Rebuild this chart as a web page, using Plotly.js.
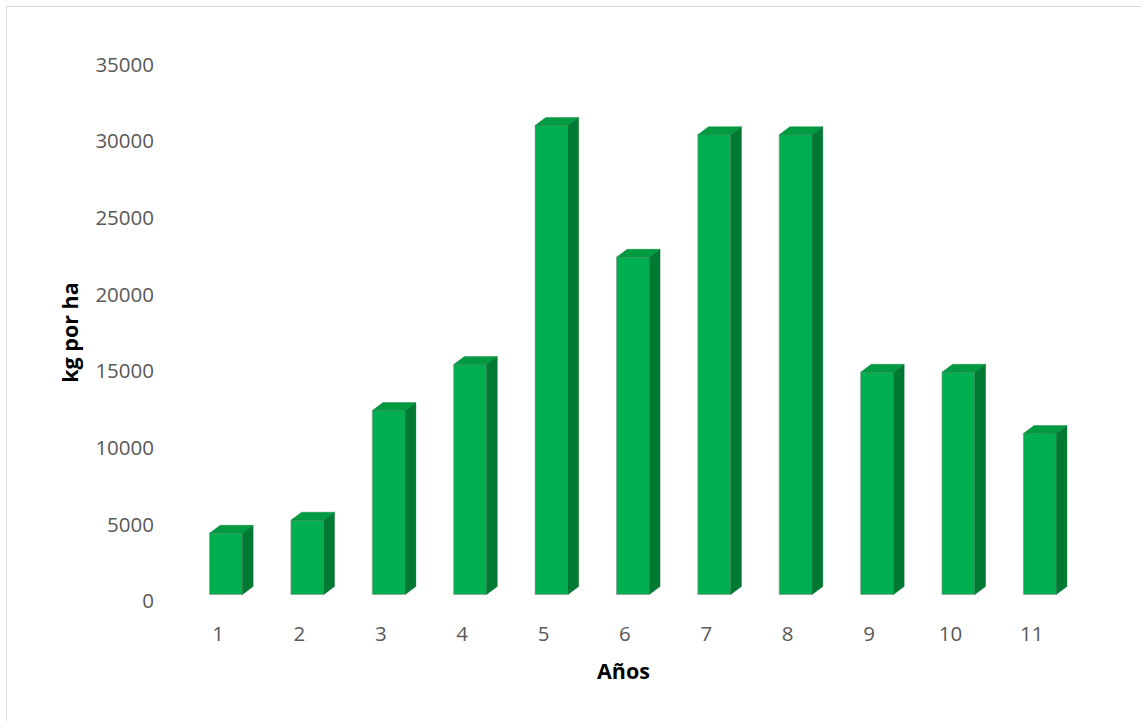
<!DOCTYPE html>
<html>
<head>
<meta charset="utf-8">
<script src="https://cdn.plot.ly/plotly-3.0.1.min.js"></script>
<style>
  html, body { margin: 0; padding: 0; background: #ffffff; }
  #wrap { position: relative; width: 1141px; height: 721px; overflow: hidden; }
  #chart { width: 1141px; height: 721px; }
  #frame {
    position: absolute; left: 6px; top: 6px; width: 1200px; height: 800px;
    border-left: 1.5px solid #d9d9d9; border-top: 1.5px solid #d9d9d9;
    pointer-events: none;
  }
</style>
</head>
<body>
<div id="wrap">
  <div id="chart"></div>
  <div id="frame"></div>
</div>
<script>
// Yield per hectare by year
const years = [1, 2, 3, 4, 5, 6, 7, 8, 9, 10, 11];
const kgPerHa = [4000, 4850, 12000, 15000, 30600, 22000, 30000, 30000, 14500, 14500, 10500];
const yTicks = [0, 5000, 10000, 15000, 20000, 25000, 30000, 35000];

// column geometry (data units) for the extruded look
const barWidth = 0.405;
const depthX = 0.131;   // horizontal depth offset, category units
const depthY = 520;     // vertical depth offset, value units

const frontColor = '#00b050';
const sideColor = '#007a33';
const topColor = '#009a40';

// plot box in pixels
const W = 1141, H = 721;
const mL = 157, mR = 31.6, mT = 57.5, mB = 120;
const plotW = W - mL - mR, plotH = H - mT - mB;
const yMax = 35000;
const columnFloor = 594.5;                       // pixel row of the columns' base
const unitsPerPx = yMax / (columnFloor - mT);
const floorDrop = (H - mB - columnFloor) * unitsPerPx;  // value axis sits on the front edge of the floor

// side and top faces built from each value
const sideX = [], sideY = [], topX = [], topY = [];
years.forEach((yr, i) => {
  const v = kgPerHa[i];
  const l = yr - barWidth / 2, r = yr + barWidth / 2;
  sideX.push(r, r + depthX, r + depthX, r, r, null);
  sideY.push(0, depthY, v + depthY, v, 0, null);
  topX.push(l, l + depthX, r + depthX, r, l, null);
  topY.push(v, v + depthY, v + depthY, v, v, null);
});

const traces = [
  {
    type: 'bar', x: years, y: kgPerHa, width: barWidth,
    marker: { color: frontColor, line: { color: 'rgba(140,140,140,0.55)', width: 1 } },
    hoverinfo: 'skip', showlegend: false
  },
  {
    type: 'scatter', mode: 'lines', x: sideX, y: sideY, fill: 'toself',
    fillcolor: sideColor, line: { color: 'rgba(0,100,40,0.6)', width: 0.6 },
    hoverinfo: 'skip', showlegend: false, cliponaxis: false
  },
  {
    type: 'scatter', mode: 'lines', x: topX, y: topY, fill: 'toself',
    fillcolor: topColor, line: { color: 'rgba(0,120,50,0.6)', width: 0.6 },
    hoverinfo: 'skip', showlegend: false, cliponaxis: false
  },
  // empty helper so the front-edge value scale gets its own subplot
  {
    type: 'scatter', mode: 'markers', x: [years[0]], y: [0], yaxis: 'y2',
    marker: { opacity: 0, size: 1 }, hoverinfo: 'skip', showlegend: false
  }
];

const tickFont = { family: 'Open Sans, Liberation Sans, sans-serif', size: 20.5, color: '#595959' };
const titleFont = { family: 'Open Sans, Liberation Sans, sans-serif', size: 21.5, color: '#000000', weight: 'bold' };

const layout = {
  width: W, height: H,
  margin: { l: mL, r: mR, t: mT, b: mB, pad: 0 },
  paper_bgcolor: '#ffffff', plot_bgcolor: '#ffffff',
  showlegend: false,
  xaxis: {
    type: 'linear', range: [0.152, 11.85],
    tickmode: 'array', tickvals: years, ticktext: years.map(String),
    showgrid: false, zeroline: false, showline: false,
    ticks: 'outside', ticklen: 14, tickcolor: 'rgba(0,0,0,0)',
    tickfont: tickFont, ticklabelshift: -8,
    fixedrange: true
  },
  // columns stand on a floor set back from the front edge
  yaxis: {
    range: [-floorDrop, yMax],
    showticklabels: false,
    showgrid: false, zeroline: false, showline: false, ticks: '',
    fixedrange: true
  },
  // value scale drawn on the front edge
  yaxis2: {
    overlaying: 'y', side: 'left', anchor: 'x',
    range: [0, yMax + floorDrop],
    tickmode: 'array', tickvals: yTicks, ticktext: yTicks.map(String),
    showgrid: false, zeroline: false, showline: false, ticks: '',
    tickfont: tickFont, ticklabelstandoff: 2,
    fixedrange: true
  },
  annotations: [
    {
      text: 'Años', xref: 'paper', yref: 'paper',
      x: (624 - mL) / plotW, y: -(671 - (H - mB)) / plotH,
      xanchor: 'center', yanchor: 'middle', showarrow: false, font: titleFont
    },
    {
      text: 'kg por ha', xref: 'paper', yref: 'paper',
      x: -(mL - 70) / plotW, y: ((H - mB) - 332.5) / plotH,
      xanchor: 'center', yanchor: 'middle', textangle: -90, showarrow: false, font: titleFont
    }
  ]
};

Plotly.newPlot('chart', traces, layout, { displayModeBar: false, staticPlot: true });
</script>
</body>
</html>
